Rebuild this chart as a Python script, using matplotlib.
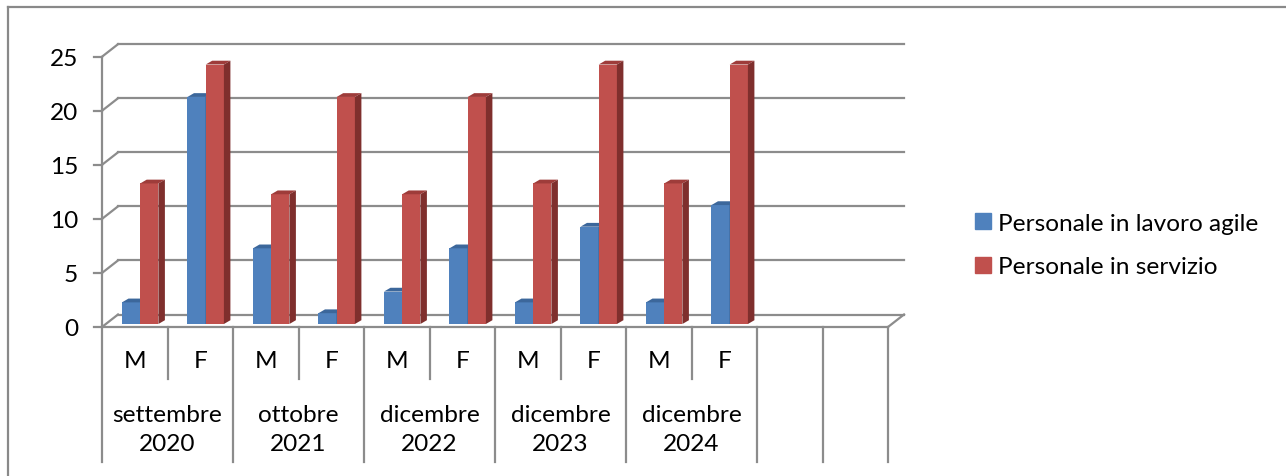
import matplotlib
matplotlib.use('Agg')
import matplotlib.pyplot as plt
from matplotlib.patches import Patch, Polygon
from matplotlib.lines import Line2D

plt.rcParams['font.family'] = ['Lato', 'DejaVu Sans']

# dati
genders = ['M', 'F', 'M', 'F', 'M', 'F', 'M', 'F', 'M', 'F']
periods = ['settembre\n2020', 'ottobre\n2021', 'dicembre\n2022', 'dicembre\n2023', 'dicembre\n2024']
agile = [2, 21, 7, 1, 3, 7, 2, 9, 2, 11]
servizio = [13, 24, 12, 21, 12, 21, 13, 24, 13, 24]
series_names = ['Personale in lavoro agile', 'Personale in servizio']
y_ticks = [0, 5, 10, 15, 20, 25]
n_slots = 12  # 10 categorie + 2 vuote

W, H = 1286, 477
fs = 17.6
fig = plt.figure(figsize=(W / 100, H / 100), dpi=100)
# piano frontale: x 0..12 -> px 102..888, y 0..25 -> px 328..57.7
ax = fig.add_axes([102 / W, (H - 328) / H, 786 / W, 270.3 / H])
ax.set_xlim(0, n_slots)
ax.set_ylim(0, 25)
ax.axis('off')

px = n_slots / 786.0
py = 25 / 270.3
grid_col = '#8c8c8c'
lw = 1.6

# profondita' del pavimento
DX, DY = 16 * px, 12.5 * py

for v in y_ticks:
    ax.plot([DX, n_slots + DX], [v + DY, v + DY], color=grid_col, lw=lw, clip_on=False)
    ax.plot([0, DX], [v, v + DY], color=grid_col, lw=lw, clip_on=False)
    ax.plot([-8 * px, 0], [v, v], color=grid_col, lw=lw, clip_on=False)
    ax.text(-24 * px, v - 2 * py, str(v), ha='right', va='center', fontsize=fs, clip_on=False)

# asse frontale e pavimento
ax.plot([0, 0], [25, -135 * py], color=grid_col, lw=lw, clip_on=False)
ax.plot([0, n_slots], [0, 0], color=grid_col, lw=lw, clip_on=False)
ax.plot([n_slots, n_slots + DX], [0, DY], color=grid_col, lw=lw, clip_on=False)

# separatori categorie
for i in range(1, n_slots + 1):
    if i < len(genders) and i % 2 == 1:
        bottom = -52 * py
    else:
        bottom = -135 * py
    ax.plot([i, i], [0, bottom], color=grid_col, lw=lw, clip_on=False)

for i, g in enumerate(genders):
    ax.text(i + 0.5, -34 * py, g, ha='center', va='center', fontsize=fs)
for j, p in enumerate(periods):
    ax.text(2 * j + 1, -102 * py, p, ha='center', va='center', fontsize=fs, linespacing=1.45)

# barre 3D
bar_w = 0.278
sx, sy = 3.8 * px, 3 * py
bdx, bdy = 6.5 * px, 3.8 * py
colors = [('#4f81bd', '#3c679b', '#2f5380'), ('#c0504d', '#9e3c3a', '#7f2f2d')]

for s, vals in enumerate([agile, servizio]):
    front, top, side = colors[s]
    xs = [i + 0.247 + s * bar_w + sx for i in range(len(vals))]
    ax.bar(xs, vals, width=bar_w, bottom=sy, align='edge', color=front, lw=0, zorder=3 + s, clip_on=False)
    for x, v in zip(xs, vals):
        xr = x + bar_w
        ax.add_patch(Polygon([(x, sy + v), (xr, sy + v), (xr + bdx, sy + v + bdy), (x + bdx, sy + v + bdy)],
                             closed=True, color=top, lw=0, zorder=3 + s, clip_on=False))
        ax.add_patch(Polygon([(xr, sy), (xr, sy + v), (xr + bdx, sy + v + bdy), (xr + bdx, sy + bdy)],
                             closed=True, color=side, lw=0, zorder=3 + s, clip_on=False))

handles = [Patch(color=colors[0][0], label=series_names[0]),
           Patch(color=colors[1][0], label=series_names[1])]
fig.legend(handles=handles, loc='center left', bbox_to_anchor=(975 / W, 1 - 246 / H),
           frameon=False, fontsize=fs, handlelength=0.65, handleheight=0.65,
           handletextpad=0.3, labelspacing=0.92, borderaxespad=0, borderpad=0)

# bordo esterno
fig.add_artist(Line2D([8 / W, 1], [1 - 8 / H, 1 - 8 / H], color='#898989', lw=1.6))
fig.add_artist(Line2D([8 / W, 8 / W], [0, 1 - 8 / H], color='#898989', lw=1.6))

fig.savefig('out.png', dpi=100)
